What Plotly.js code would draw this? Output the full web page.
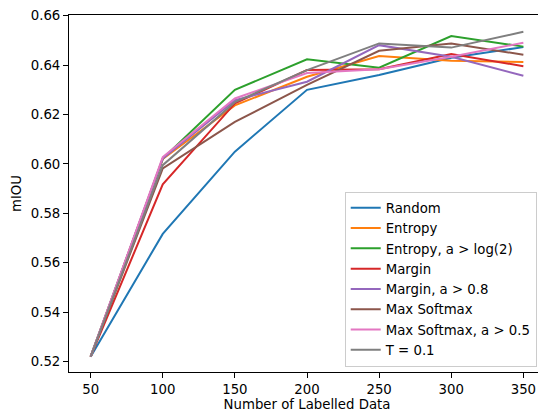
<!DOCTYPE html>
<html>
<head>
<meta charset="utf-8">
<script src="https://cdn.plot.ly/plotly-3.0.1.min.js"></script>
<style>
html, body { margin: 0; padding: 0; overflow: hidden; background: #fff; }
#chart { width: 547px; height: 412px; }
</style>
</head>
<body>
<div id="chart"></div>
<script>
var labelledData = [50, 100, 150, 200, 250, 300, 350];
var seriesNames = ["Random", "Entropy", "Entropy, a > log(2)", "Margin", "Margin, a > 0.8", "Max Softmax", "Max Softmax, a > 0.5", "T = 0.1"];
var randomVals = [0.522, 0.5717, 0.6050, 0.6300, 0.6360, 0.6430, 0.6473];
var entropyVals = [0.522, 0.6020, 0.6237, 0.6353, 0.6437, 0.6418, 0.6413];
var entropyLogVals = [0.522, 0.6022, 0.6300, 0.6424, 0.6390, 0.6518, 0.6475];
var marginVals = [0.522, 0.5918, 0.6245, 0.6380, 0.6383, 0.6445, 0.6396];
var margin08Vals = [0.522, 0.6022, 0.6258, 0.6333, 0.6481, 0.6434, 0.6357];
var maxSoftmaxVals = [0.522, 0.5982, 0.6170, 0.6320, 0.6458, 0.6488, 0.6442];
var maxSoftmax05Vals = [0.522, 0.6028, 0.6265, 0.6368, 0.6383, 0.6434, 0.6491];
var t01Vals = [0.522, 0.5995, 0.6250, 0.6380, 0.6488, 0.6471, 0.6535];
var xTicks = [50, 100, 150, 200, 250, 300, 350];
var yTicks = [0.52, 0.54, 0.56, 0.58, 0.60, 0.62, 0.64, 0.66];
var yTickText = ["0.52", "0.54", "0.56", "0.58", "0.60", "0.62", "0.64", "0.66"];

var allVals = [randomVals, entropyVals, entropyLogVals, marginVals, margin08Vals, maxSoftmaxVals, maxSoftmax05Vals, t01Vals];
var colors = ["#1f77b4", "#ff7f0e", "#2ca02c", "#d62728", "#9467bd", "#8c564b", "#e377c2", "#7f7f7f"];

var traces = allVals.map(function (vals, i) {
  return {
    x: labelledData,
    y: vals,
    name: seriesNames[i],
    type: "scatter",
    mode: "lines",
    line: { color: colors[i], width: 2 }
  };
});

var fontFamily = "DejaVu Sans, sans-serif";
var layout = {
  width: 547,
  height: 412,
  margin: { l: 69, r: 2, t: 15, b: 40 },
  paper_bgcolor: "#ffffff",
  plot_bgcolor: "#ffffff",
  font: { family: fontFamily, size: 13.3, color: "#000000" },
  showlegend: true,
  xaxis: {
    range: [35, 365],
    tickvals: xTicks,
    ticktext: xTicks.map(String),
    showgrid: false,
    zeroline: false,
    showline: true,
    mirror: true,
    linecolor: "#000000",
    linewidth: 1,
    ticks: "outside",
    ticklen: 5,
    tickwidth: 1,
    tickcolor: "#000000",
    tickfont: { family: fontFamily, size: 13.3, color: "#000000" },
    title: { text: "Number of Labelled Data", font: { family: fontFamily, size: 13.3, color: "#000000" }, standoff: 4 }
  },
  yaxis: {
    range: [0.5158, 0.6603],
    tickvals: yTicks,
    ticktext: yTickText,
    showgrid: false,
    zeroline: false,
    showline: true,
    mirror: true,
    linecolor: "#000000",
    linewidth: 1,
    ticks: "outside",
    ticklen: 5,
    tickwidth: 1,
    tickcolor: "#000000",
    tickfont: { family: fontFamily, size: 13.3, color: "#000000" },
    title: { text: "mIOU", font: { family: fontFamily, size: 13.3, color: "#000000" }, standoff: 6 }
  },
  legend: {
    x: 0.9826,
    y: 0.015,
    xanchor: "right",
    yanchor: "bottom",
    bgcolor: "rgba(255,255,255,0.8)",
    bordercolor: "#cccccc",
    borderwidth: 1,
    font: { family: fontFamily, size: 13.3, color: "#000000" },
    tracegroupgap: 0
  }
};

Plotly.newPlot("chart", traces, layout, { displayModeBar: false, staticPlot: true });
</script>
</body>
</html>
